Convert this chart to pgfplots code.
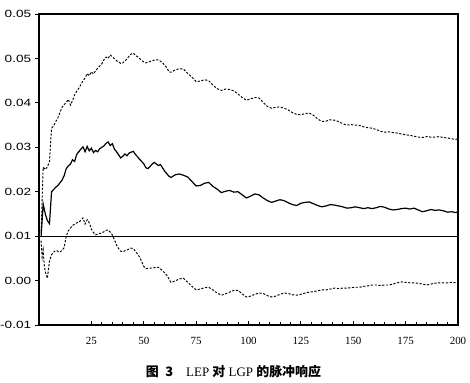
\documentclass[border=0pt]{standalone}
\usepackage{pgfplots}
\pgfplotsset{compat=1.18}
\usepackage{fontspec}
\setmainfont{Liberation Serif}
\newfontfamily\arial{Liberation Sans}
\newfontfamily\cjk{Noto Sans CJK SC}
\begin{document}
\begin{tikzpicture}
\begin{axis}[
  at={(0,0)}, anchor=south west,
  scale only axis, width=419bp, height=311bp,
  xmin=0, xmax=200, ymin=-0.01, ymax=0.06,
  xtick={25,50,75,100,125,150,175,200},
  xticklabels={25,50,75,100,125,150,175,200},
  minor x tick num=4,
  ytick={-0.01,0,0.01,0.02,0.03,0.04,0.05,0.06},
  yticklabels={-0.01,0.00,0.01,0.02,0.03,0.04,0.05,0.05},
  scaled y ticks=false, scaled x ticks=false,
  tick pos=left,
  tick align=inside,
  major tick length=4bp, minor tick length=3bp,
  ytick style={xshift=-4bp},
  every tick/.style={black, line width=0.8bp},
  axis line style={line width=1.1bp},
  /pgf/number format/assume math mode=true,
  xticklabel style={font=\fontsize{11}{11}\selectfont, yshift=-8.5bp},
  yticklabel style={font=\arial\fontsize{10.5}{10.5}\selectfont, xscale=1.3, xshift=-2.5bp},
  clip=false,
]
\addplot[black, line width=1.2bp] coordinates {(0,0.01) (200,0.01)};
% impulse response (solid)
\addplot[black, line width=1.2bp] coordinates {
(1,0.0100)(2,0.0172)(3,0.0150)(4,0.0135)(5,0.0128)(6,0.0200)(7,0.0205)(8,0.0210)(9,0.0214)(10,0.0220)
(11,0.0226)(12,0.0236)(13,0.0252)(14,0.0258)(15,0.0262)(16,0.0272)(17,0.0268)(18,0.0284)(19,0.0290)(20,0.0296)
(21,0.0301)(22,0.0290)(23,0.0302)(24,0.0292)(25,0.0298)(26,0.0288)(27,0.0293)(28,0.0290)(29,0.0297)(30,0.0300)
(31,0.0303)(32,0.0309)(33,0.0312)(34,0.0304)(35,0.0308)(36,0.0296)(37,0.0290)(38,0.0283)(39,0.0276)(40,0.0280)
(41,0.0285)(42,0.0281)(43,0.0287)(44,0.0289)(45,0.0291)(46,0.0284)(47,0.0279)(48,0.0273)(49,0.0268)(50,0.0263)
(51,0.0254)(52,0.0252)(54,0.0262)(55,0.0266)(57,0.0259)(58,0.0261)(60,0.0246)(62,0.0235)(63,0.0232)(65,0.0238)
(67,0.0240)(69,0.0237)(71,0.0233)(73,0.0223)(75,0.0213)(77,0.0214)(79,0.0219)(81,0.0221)(83,0.0212)(85,0.0206)
(87,0.0198)(89,0.0201)(91,0.0203)(93,0.0199)(95,0.0200)(97,0.0193)(99,0.0186)(101,0.0190)(103,0.0195)(105,0.0193)
(107,0.0186)(109,0.0180)(111,0.0176)(113,0.0179)(115,0.0182)(117,0.0180)(119,0.0175)(121,0.0171)(123,0.0169)(125,0.0174)
(127,0.0176)(129,0.0177)(131,0.0173)(133,0.0169)(135,0.0166)(137,0.0168)(139,0.0171)(141,0.0170)(143,0.0168)(145,0.0166)
(147,0.0163)(149,0.0164)(151,0.0166)(153,0.0164)(155,0.0162)(157,0.0164)(159,0.0162)(161,0.0164)(163,0.0167)(165,0.0165)
(167,0.0161)(169,0.0159)(171,0.0160)(173,0.0162)(175,0.0163)(177,0.0161)(179,0.0163)(181,0.0159)(183,0.0155)(185,0.0157)
(187,0.0160)(189,0.0158)(191,0.0159)(193,0.0157)(195,0.0154)(197,0.0155)(199,0.0153)(200,0.0155)
};
% upper band (dashed)
\addplot[black, line width=0.95bp, dash pattern=on 2.2bp off 1.6bp] coordinates {
(1,0.0110)(2,0.0255)(3,0.0250)(4,0.0256)(5,0.0268)(6,0.0343)(7,0.0348)(8,0.0358)(9,0.0366)(10,0.0378)
(11,0.0390)(12,0.0396)(13,0.0401)(14,0.0408)(15,0.0395)(16,0.0405)(17,0.0418)(18,0.0426)(19,0.0433)(20,0.0441)
(21,0.0450)(22,0.0456)(23,0.0466)(24,0.0461)(25,0.0470)(26,0.0465)(27,0.0472)(28,0.0478)(29,0.0483)(30,0.0488)
(31,0.0497)(32,0.0503)(33,0.0500)(34,0.0508)(35,0.0504)(36,0.0499)(37,0.0495)(38,0.0492)(39,0.0489)(40,0.0490)
(41,0.0494)(42,0.0499)(43,0.0505)(44,0.0510)(45,0.0512)(46,0.0507)(47,0.0504)(48,0.0500)(49,0.0496)(50,0.0492)
(51,0.0490)(53,0.0493)(55,0.0496)(57,0.0497)(59,0.0490)(61,0.0479)(62,0.0470)(63,0.0469)(65,0.0474)(67,0.0477)
(69,0.0476)(71,0.0466)(73,0.0458)(75,0.0448)(77,0.0449)(79,0.0452)(81,0.0450)(83,0.0440)(85,0.0432)(87,0.0428)
(89,0.0431)(91,0.0430)(93,0.0427)(95,0.0420)(97,0.0412)(99,0.0406)(101,0.0409)(103,0.0412)(105,0.0411)(107,0.0401)
(109,0.0392)(111,0.0388)(113,0.0390)(115,0.0391)(117,0.0388)(119,0.0384)(121,0.0378)(123,0.0374)(125,0.0373)(127,0.0376)
(129,0.0377)(131,0.0372)(133,0.0364)(135,0.0358)(137,0.0359)(139,0.0362)(141,0.0361)(143,0.0358)(145,0.0353)(147,0.0350)
(149,0.0351)(151,0.0350)(153,0.0349)(155,0.0346)(157,0.0344)(159,0.0343)(161,0.0340)(163,0.0336)(165,0.0334)(167,0.0335)
(169,0.0333)(171,0.0332)(173,0.0330)(175,0.0328)(177,0.0327)(179,0.0325)(181,0.0323)(183,0.0322)(185,0.0324)(187,0.0323)
(189,0.0323)(191,0.0324)(193,0.0322)(195,0.0321)(197,0.0319)(199,0.0318)(200,0.0319)
};
% lower band (dashed)
\addplot[black, line width=0.95bp, dash pattern=on 2.2bp off 1.6bp] coordinates {
(1,0.0090)(1.5,0.0053)(2,0.0069)(2.5,0.0035)(3,0.0020)(4,0.0005)(5,0.0044)(6,0.0058)(7,0.0064)(8,0.0068)
(9,0.0066)(10,0.0064)(11,0.0068)(12,0.0074)(13,0.0100)(14,0.0112)(15,0.0118)(16,0.0124)(17,0.0127)(18,0.0130)
(19,0.0131)(20,0.0136)(21,0.0141)(22,0.0127)(23,0.0137)(24,0.0130)(25,0.0116)(26,0.0108)(27,0.0103)(28,0.0104)
(29,0.0106)(30,0.0107)(31,0.0110)(32,0.0113)(33,0.0114)(34,0.0109)(35,0.0103)(36,0.0092)(37,0.0080)(38,0.0072)
(39,0.0066)(40,0.0065)(41,0.0067)(42,0.0069)(43,0.0071)(44,0.0073)(45,0.0072)(46,0.0066)(47,0.0060)(48,0.0053)
(49,0.0043)(50,0.0032)(51,0.0027)(53,0.0028)(55,0.0029)(57,0.0030)(59,0.0022)(61,0.0012)(63,-0.0004)(65,-0.0001)
(67,0.0004)(69,0.0005)(71,-0.0004)(73,-0.0013)(75,-0.0021)(77,-0.0019)(79,-0.0016)(81,-0.0015)(83,-0.0021)(85,-0.0028)
(87,-0.0033)(89,-0.0030)(91,-0.0026)(93,-0.0022)(95,-0.0022)(97,-0.0030)(99,-0.0037)(101,-0.0035)(103,-0.0031)(105,-0.0028)
(107,-0.0029)(109,-0.0034)(111,-0.0037)(113,-0.0035)(115,-0.0031)(117,-0.0028)(119,-0.0029)(121,-0.0032)(123,-0.0033)(125,-0.0031)
(127,-0.0028)(129,-0.0026)(131,-0.0025)(133,-0.0023)(135,-0.0021)(137,-0.0021)(139,-0.0019)(141,-0.0017)(143,-0.0018)(145,-0.0017)
(147,-0.0017)(149,-0.0016)(151,-0.0015)(153,-0.0015)(155,-0.0013)(157,-0.0012)(159,-0.0010)(161,-0.0010)(163,-0.0011)(165,-0.0010)
(167,-0.0010)(169,-0.0008)(171,-0.0005)(173,-0.0003)(175,-0.0004)(177,-0.0005)(179,-0.0005)(181,-0.0006)(183,-0.0008)(185,-0.0010)
(187,-0.0008)(189,-0.0006)(191,-0.0005)(193,-0.0005)(195,-0.0005)(197,-0.0004)(199,-0.0005)(200,-0.0005)
};
\end{axis}
\node[anchor=base, inner sep=0pt, font=\fontsize{13}{15}\selectfont] at (194.5bp,-51bp)
  {{\cjk\bfseries 图\enspace3}\quad LEP {\cjk\bfseries 对} LGP {\cjk\bfseries 的脉冲响应}};
\pgfresetboundingbox
\path (-39bp,-58bp) rectangle (431bp,325bp);
\end{tikzpicture}
\end{document}
